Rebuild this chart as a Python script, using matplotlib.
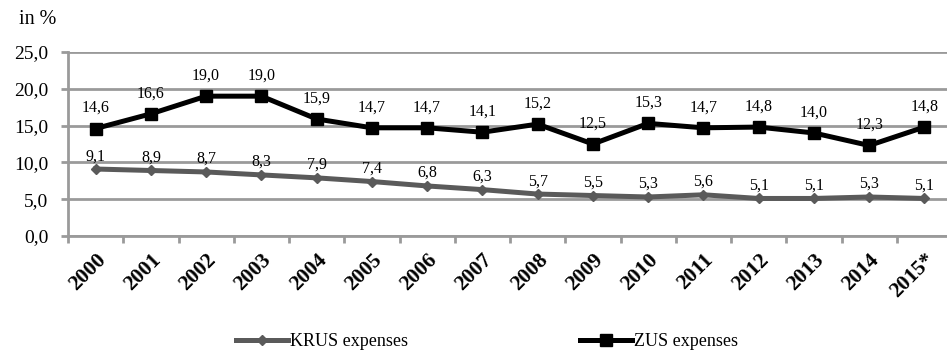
import matplotlib
matplotlib.use("Agg")
import matplotlib.pyplot as plt
import numpy as np

plt.rcParams['font.family'] = 'serif'
plt.rcParams['font.serif'] = ['Liberation Serif', 'Times New Roman', 'DejaVu Serif']

years = ['2000', '2001', '2002', '2003', '2004', '2005', '2006', '2007',
         '2008', '2009', '2010', '2011', '2012', '2013', '2014', '2015*']
krus = [9.1, 8.9, 8.7, 8.3, 7.9, 7.4, 6.8, 6.3, 5.7, 5.5, 5.3, 5.6, 5.1, 5.1, 5.3, 5.1]
zus = [14.6, 16.6, 19.0, 19.0, 15.9, 14.7, 14.7, 14.1, 15.2, 12.5, 15.3, 14.7, 14.8, 14.0, 12.3, 14.8]
y_ticks = [0, 5, 10, 15, 20, 25]

grid_col = '#9a9a9a'
krus_col = '#5a5a5a'

fig = plt.figure(figsize=(9.47, 3.51), dpi=100)
ax = fig.add_axes([68/947, 1 - 236/351, 884/947, 184/351])

x = np.arange(len(years))
ax.plot(x, krus, color=krus_col, lw=3.6, marker='D', ms=5.5, label='KRUS expenses', zorder=3)
ax.plot(x, zus, color='black', lw=3.6, marker='s', ms=9, label='ZUS expenses', zorder=4)

# labels above the points
for xi, v in zip(x, krus):
    ax.annotate(f'{v:.1f}'.replace('.', ','), (xi, v), xytext=(0, 3.5), textcoords='offset points',
                ha='center', va='bottom', fontsize=11.5)
for xi, v in zip(x, zus):
    ax.annotate(f'{v:.1f}'.replace('.', ','), (xi, v), xytext=(0, 9), textcoords='offset points',
                ha='center', va='bottom', fontsize=11.5)

ax.set_xlim(-0.5, len(years) - 0.5)
ax.set_ylim(0, 25)
ax.set_yticks(y_ticks)
ax.set_yticklabels([f'{t:.1f}'.replace('.', ',') for t in y_ticks], fontsize=14)
ax.yaxis.grid(True, color=grid_col, lw=2)
ax.set_axisbelow(True)

ax.set_xticks(x)
ax.set_xticklabels(years, rotation=45, ha='right', rotation_mode='anchor',
                   fontsize=15.5, fontweight='bold')
ax.set_xticks(np.arange(len(years) + 1) - 0.5, minor=True)
ax.tick_params(axis='x', which='major', length=0, pad=10)
ax.tick_params(axis='x', which='minor', length=5, width=2, color=grid_col)
ax.tick_params(axis='y', length=5, width=2, color=grid_col, pad=9)

for s in ['top', 'right']:
    ax.spines[s].set_visible(False)
ax.spines['left'].set_color(grid_col)
ax.spines['left'].set_linewidth(2)
ax.spines['bottom'].set_color(grid_col)
ax.spines['bottom'].set_linewidth(2)

fig.text(19/947, 1 - 20/351, 'in %', fontsize=14.5, va='center', ha='left')

fig.legend(loc='center', bbox_to_anchor=(487/947, 1 - 342/351), ncol=2, frameon=False,
           fontsize=13, handlelength=2.9, handletextpad=0.1, columnspacing=9.5)

fig.savefig('out.png', dpi=100)
